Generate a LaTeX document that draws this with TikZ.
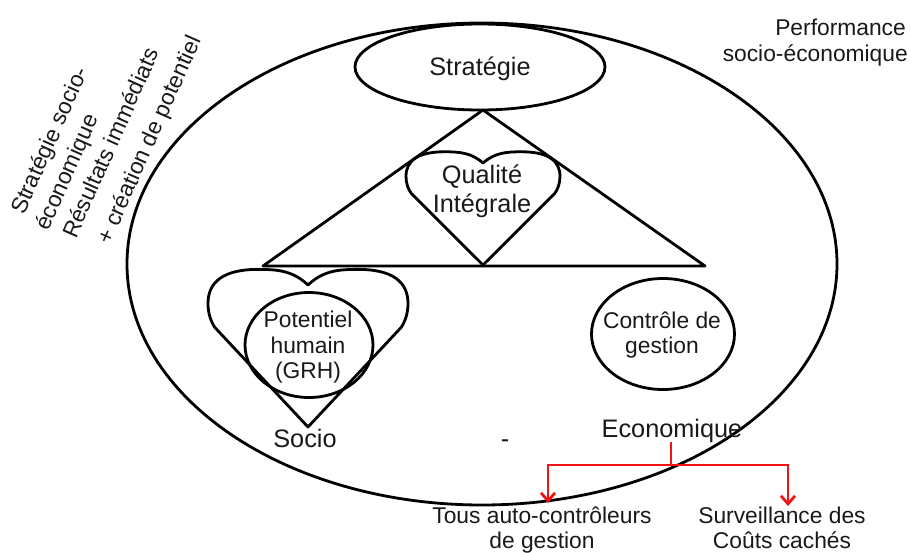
\documentclass[tikz,border=0pt]{standalone}
\usepackage{fontspec}
\setmainfont{Liberation Sans}
\usetikzlibrary{shapes.geometric,arrows.meta}
\newcommand\myheart[4]{% cx, dip y, half width, height dip->tip
  \draw[shapeline] (#1,#2)
    .. controls ({#1+0.15*#3},{#2-0.10*#4}) and ({#1+0.30*#3},{#2-0.11*#4}) .. ({#1+0.5*#3},{#2-0.11*#4})
    .. controls ({#1+0.85*#3},{#2-0.11*#4}) and ({#1+1.0*#3},{#2-0.02*#4}) .. ({#1+1.0*#3},{#2+0.13*#4})
    .. controls ({#1+1.0*#3},{#2+0.20*#4}) and ({#1+0.97*#3},{#2+0.26*#4}) .. ({#1+0.93*#3},{#2+0.30*#4})
    -- (#1,{#2+#4})
    -- ({#1-0.93*#3},{#2+0.30*#4})
    .. controls ({#1-0.97*#3},{#2+0.26*#4}) and ({#1-1.0*#3},{#2+0.20*#4}) .. ({#1-1.0*#3},{#2+0.13*#4})
    .. controls ({#1-1.0*#3},{#2-0.02*#4}) and ({#1-0.85*#3},{#2-0.11*#4}) .. ({#1-0.5*#3},{#2-0.11*#4})
    .. controls ({#1-0.30*#3},{#2-0.11*#4}) and ({#1-0.15*#3},{#2-0.10*#4}) .. cycle;
}
\begin{document}
\begin{tikzpicture}[x=1pt,y=-1pt,
  shapeline/.style={line width=2.8pt, black, line join=round},
  redline/.style={line width=2.8pt, draw={rgb,255:red,240;green,20;blue,20}},
  big/.style={inner sep=0pt, font=\fontsize{25.3}{28}\selectfont, text=black!90},
  mid/.style={inner sep=0pt, font=\fontsize{22.8}{27}\selectfont, text=black!90},
  rot/.style={mid, rotate=66, anchor=base west}]
\useasboundingbox (0,0) rectangle (911,552);

% outer ellipse
\node[shapeline, draw, ellipse, minimum width=710pt, minimum height=482pt, inner sep=0pt] (outer) at (482,264) {};

% strategy ellipse
\node[shapeline, draw, ellipse, minimum width=250pt, minimum height=86pt, inner sep=0pt] (strat) at (480,67) {};
\node[big, anchor=base] (stratlbl) at (480,75) {Stratégie};

% triangle
\coordinate (apex) at (483,110);
\coordinate (bl) at (263,266);
\coordinate (br) at (705,266);
\draw[shapeline] (apex) -- (br) -- (bl) -- cycle;

% hearts
\myheart{483}{163}{77}{102}
\myheart{308}{285}{100}{142}

\node[big, anchor=base] (q1) at (482,183) {Qualité};
\node[big, anchor=base] (q2) at (482,212) {Intégrale};

% potentiel humain
\node[shapeline, draw, ellipse, minimum width=128pt, minimum height=105pt, inner sep=0pt] (pot) at (309,345) {};
\node[mid, anchor=base] (p1) at (308,327) {Potentiel};
\node[mid, anchor=base] (p2) at (308,353) {humain};
\node[mid, anchor=base] (p3) at (308,378) {(GRH)};

% controle de gestion
\node[shapeline, draw, ellipse, minimum width=143pt, minimum height=111pt, inner sep=0pt] (ctrl) at (663,334) {};
\node[mid, anchor=base] (c1) at (662,328) {Contrôle de};
\node[mid, anchor=base] (c2) at (662,353) {gestion};

% labels
\node[big, anchor=base] (socio) at (305,447) {Socio};
\node[big, anchor=base] (dash) at (505,447) {-};
\node[big, anchor=base] (eco) at (672,437) {Economique};

\node[mid, anchor=base east] (perf1) at (906,35) {Performance};
\node[mid, anchor=base east] (perf2) at (908,61) {socio-économique};

\node[mid, anchor=base] (tous1) at (542,523) {Tous auto-contrôleurs};
\node[mid, anchor=base] (tous2) at (542,548) {de gestion};
\node[mid, anchor=base] (surv1) at (782,523) {Surveillance des};
\node[mid, anchor=base] (surv2) at (782,548) {Coûts cachés};

% rotated text
\node[rot] (r1) at (24,216) {Stratégie socio-};
\node[rot] (r2) at (48.5,232) {économique};
\node[rot] (r3) at (76,240) {Résultats immédiats};
\node[rot] (r4) at (110,246) {+ création de potentiel};

% red connectors
\coordinate (split) at (671,465);
\coordinate (tip1) at (548,503);
\coordinate (tip2) at (788,506);
\draw[redline] (eco.south -| split) -- (split);
\draw[redline, -{Straight Barb[length=8pt,width=14pt]}] (split) -| (tip1);
\draw[redline, -{Straight Barb[length=8pt,width=14pt]}] (split) -| (tip2);
\end{tikzpicture}
\end{document}
